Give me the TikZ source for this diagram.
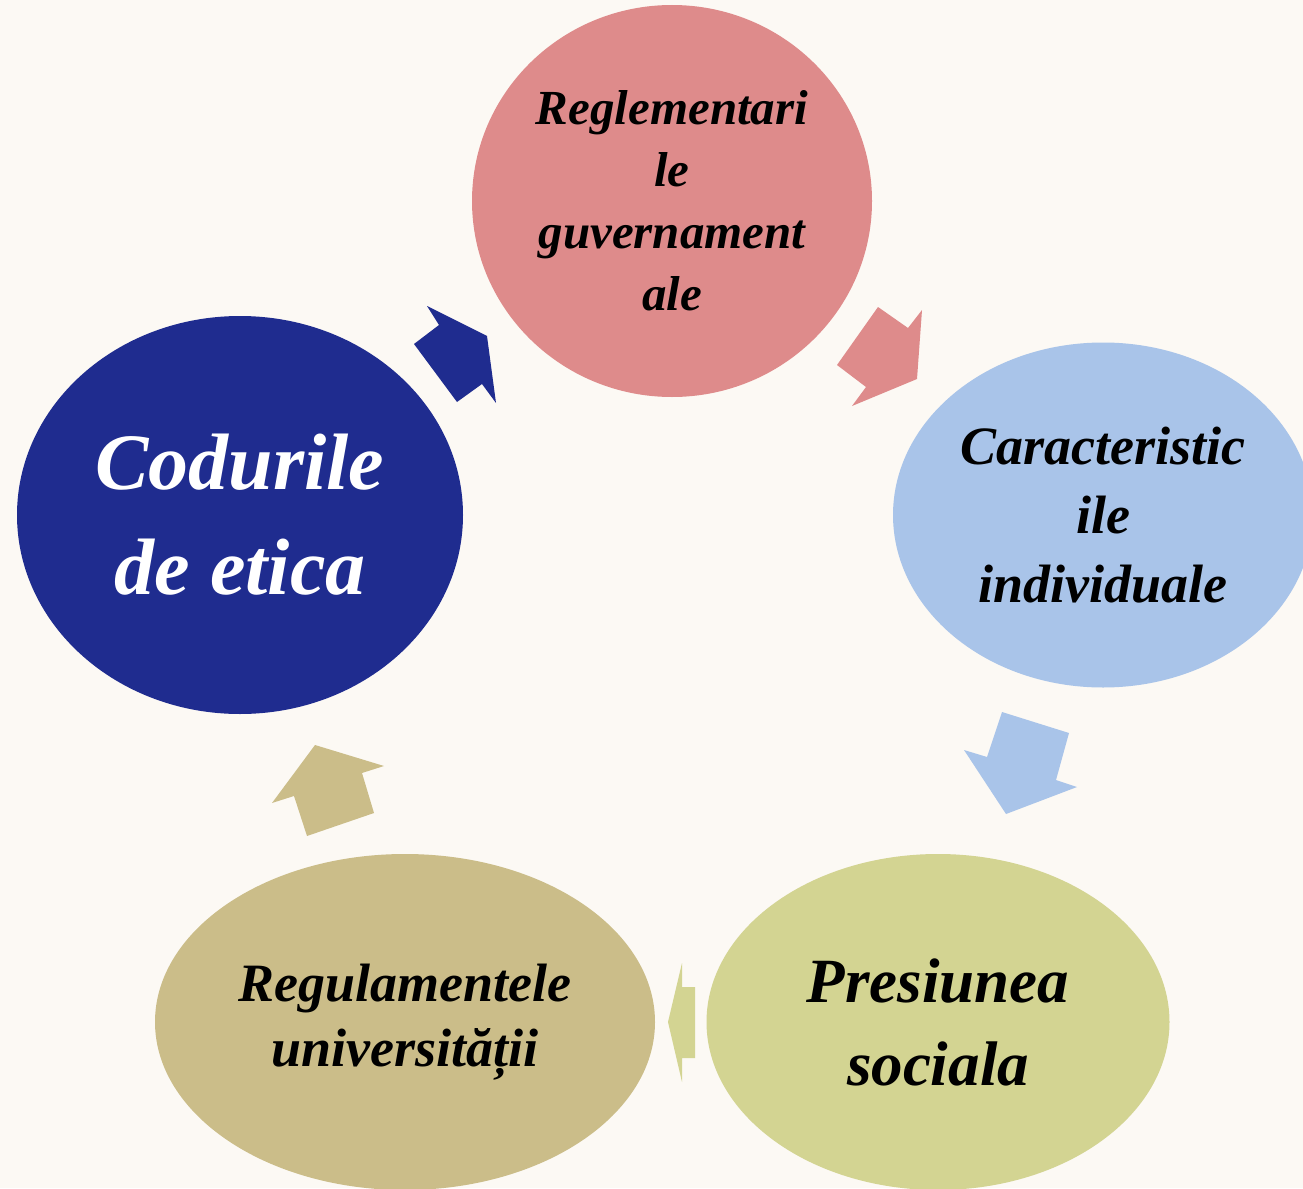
\documentclass[tikz,border=0pt]{standalone}
\usepackage{fontspec}
\setmainfont{Liberation Serif}
\usetikzlibrary{shapes.geometric}
\definecolor{bgc}{RGB}{252,249,244}
\definecolor{pinkc}{RGB}{222,139,139}
\definecolor{lbluec}{RGB}{169,196,233}
\definecolor{greenc}{RGB}{211,212,146}
\definecolor{tanc}{RGB}{203,189,137}
\definecolor{dbluec}{RGB}{31,44,143}
\tikzset{
  blob/.style={ellipse, inner sep=0pt, align=center, font=\bfseries\itshape},
}
\begin{document}
\begin{tikzpicture}[x=1pt,y=-1pt]
\useasboundingbox (0,0) rectangle (1303,1188);
\clip (0,0) rectangle (1303,1188);
\fill[bgc] (0,0) rectangle (1303,1188);

\node[blob, fill=pinkc, minimum width=400pt, minimum height=392pt,
      font=\bfseries\itshape\fontsize{49}{62}\selectfont] (top) at (672,201)
  {Reglementari\\le\\guvernament\\ale};
\node[blob, fill=lbluec, minimum width=420pt, minimum height=345pt,
      font=\bfseries\itshape\fontsize{54}{69}\selectfont] (right) at (1103,515)
  {Caracteristic\\ile\\individuale};
\node[blob, fill=greenc, minimum width=463pt, minimum height=336pt,
      font=\bfseries\itshape\fontsize{63}{83}\selectfont] (bright) at (938,1022)
  {Presiunea\\sociala};
\node[blob, fill=tanc, minimum width=500pt, minimum height=336pt,
      font=\bfseries\itshape\fontsize{54}{65}\selectfont] (bleft) at (405,1022)
  {Regulamentele\\universității};
\node[blob, fill=dbluec, text=white, minimum width=446pt, minimum height=398pt,
      font=\bfseries\itshape\fontsize{80}{105}\selectfont] (left) at (240,515)
  {Codurile\\de etica};

% block arrows
\fill[dbluec] (414,344) -- (439,325) -- (427,306) -- (487,336) -- (496,403) -- (482,384) -- (457,402) -- cycle;
\fill[pinkc] (878,307) -- (908,328) -- (922,310) -- (917,379) -- (852,406) -- (866,387) -- (837,365) -- cycle;
\fill[lbluec] (1002,712) -- (1069,733) -- (1056,780) -- (1077,787) -- (1006,814) -- (964,750) -- (987,757) -- cycle;
\fill[greenc] (695,987) -- (682,987) -- (682,963) -- (668,1022) -- (682,1082) -- (682,1058) -- (695,1058) -- cycle;
\fill[tanc] (307,836) -- (294,796) -- (272,803) -- (315,745) -- (384,766) -- (362,773) -- (374,813) -- cycle;
\end{tikzpicture}
\end{document}
